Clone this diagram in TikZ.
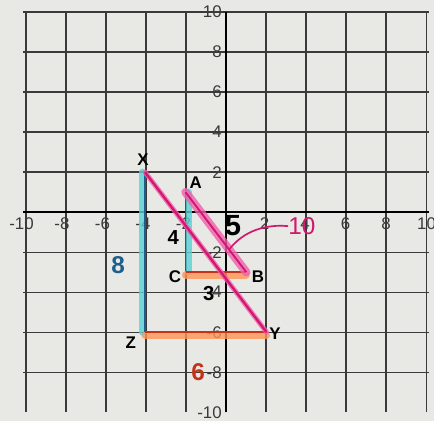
\documentclass[tikz,border=0pt]{standalone}
\usepackage{fontspec}
\setsansfont{Liberation Sans}
\definecolor{paper}{HTML}{E8E8E4}
\definecolor{gridgray}{HTML}{3A3A3A}
\definecolor{penblue}{HTML}{1C5E8C}
\definecolor{hlcyan}{HTML}{58D2D6}
\definecolor{penmag}{HTML}{D2176E}
\definecolor{hlpink}{HTML}{F060AE}
\definecolor{penred}{HTML}{C43218}
\definecolor{hlorange}{HTML}{FF9455}
\begin{document}
\begin{tikzpicture}[x=0.506cm,y=0.5cm,
	tick/.style={font=\sffamily\large,text=gridgray,inner sep=0pt},
	vlabel/.style={font=\sffamily\bfseries\large,inner sep=0pt},
	hand/.style={font=\sffamily\bfseries\LARGE,inner sep=0pt},
	hl/.style={line width=5pt,opacity=0.8,line cap=round},
	pen/.style={line width=1.3pt}]
	\useasboundingbox[fill=paper] (-11.16,-10.45) rectangle (10.27,10.6);
	% grid and axes
	\draw[gridgray,line width=0.9pt] (-10,-10) grid (10,10);
	\draw[black,line width=1.5pt] (-10,0) -- (10,0);
	\draw[black,line width=1.5pt] (0,-10) -- (0,10);
	\foreach \k in {-10,-8,-6,-4,-2,2,4,6,8,10}{
		\node[tick,anchor=north] (xl\k) at (\k-0.1,-0.25) {\k};
		\node[tick,anchor=east] (yl\k) at (-0.2,\k) {\k};
	}
	% vertices
	\coordinate (X) at (-4,2);
	\coordinate (Z) at (-4,-6);
	\coordinate (Y) at (2,-6);
	\coordinate (A) at (-2,1);
	\coordinate (C) at (-2,-3);
	\coordinate (B) at (1,-3);
	% highlighted sides
	\draw[hl,hlcyan] ([xshift=-2pt]X) -- ([xshift=-2pt]Z);
	\draw[pen,penblue] (X) -- (Z);
	\draw[hl,hlcyan] ([xshift=2pt]A) -- ([xshift=2pt]C);
	\draw[pen,penblue] (A) -- (C);
	\draw[hl,hlorange] ([yshift=-2pt]Z) -- ([yshift=-2pt]Y);
	\draw[pen,penred] (Z) -- (Y);
	\draw[hl,hlorange] ([yshift=-2pt]C) -- ([yshift=-2pt]B);
	\draw[pen,penred] (C) -- (B);
	\draw[hl,hlpink,line width=3.5pt] (X) -- (Y);
	\draw[hl,hlpink,line width=6pt] (A) -- (B);
	\draw[pen,penmag,line width=1.6pt] (X) -- (Y);
	\draw[pen,penmag] (A) -- (B);
	% vertex names
	\node[vlabel] (lX) at (-4.1,2.6) {X};
	\node[vlabel] (lA) at (-1.5,1.45) {A};
	\node[vlabel] (lC) at (-2.52,-3.25) {C};
	\node[vlabel] (lB) at (1.58,-3.25) {B};
	\node[vlabel] (lZ) at (-4.7,-6.5) {Z};
	\node[vlabel] (lY) at (2.42,-6.05) {Y};
	% side lengths
	\node[hand,text=penblue] (l8) at (-5.33,-2.65) {8};
	\node[hand,font=\sffamily\bfseries\Large] (l4) at (-2.6,-1.25) {4};
	\node[hand,font=\sffamily\bfseries\huge] (l5) at (0.35,-0.65) {5};
	\node[hand,font=\sffamily\bfseries\Large] (l3) at (-0.85,-4.05) {3};
	\node[hand,text=penred] (l6) at (-1.38,-8) {6};
	\node[hand,text=penmag,font=\sffamily\LARGE] (l10) at (3.75,-0.7) {10};
	\coordinate (AB10) at (0.15,-1.87);
	\draw[penmag,line width=1.2pt] (AB10) .. controls (0.9,-0.9) and (2,-0.6) .. (l10.west);
\end{tikzpicture}
\end{document}
